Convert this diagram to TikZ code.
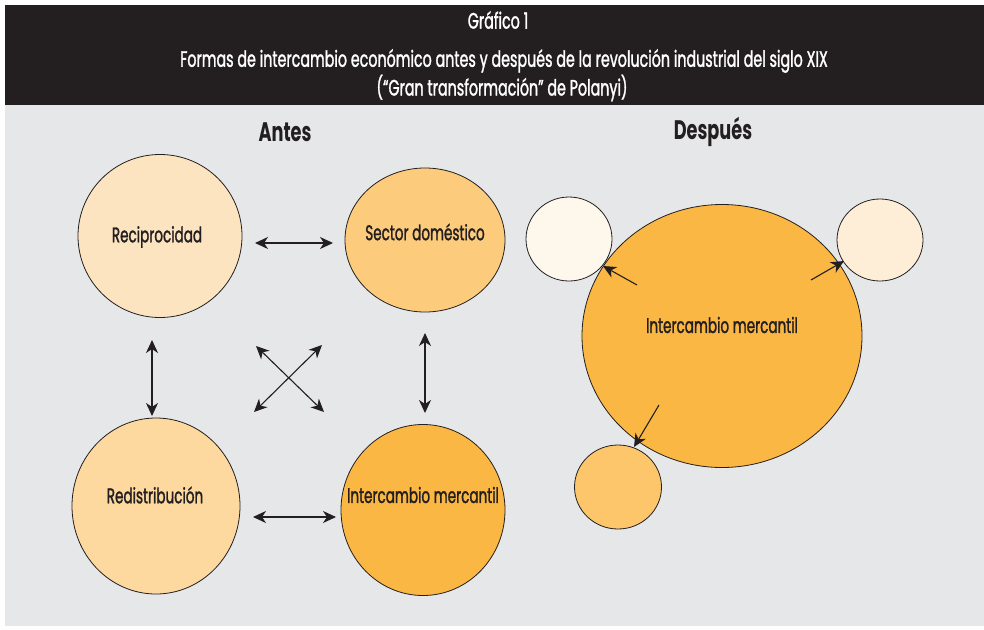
\documentclass[tikz,border=0pt]{standalone}
\usepackage{fontspec}
\setmainfont{Poppins}[FakeStretch=0.66]
\newfontfamily\medfont{Poppins}[FakeStretch=0.64, FakeBold=1.3]
\usetikzlibrary{shapes.geometric,arrows.meta}
\definecolor{hdr}{HTML}{231F20}
\definecolor{bodygrey}{HTML}{E6E7E8}
\definecolor{cRec}{HTML}{FDE4C0}
\definecolor{cSec}{HTML}{FDCB7C}
\definecolor{cRed}{HTML}{FDD89F}
\definecolor{cInt}{HTML}{FBB743}
\definecolor{cTL}{HTML}{FEF7EC}
\definecolor{cTR}{HTML}{FEEED8}
\definecolor{cBot}{HTML}{FDC66B}
\tikzset{
  blob/.style={ellipse, draw=hdr, line width=0.8pt, inner sep=0pt},
  lbl/.style={text=hdr, inner sep=0pt, font=\medfont\fontsize{21.2}{24}\selectfont},
  head/.style={text=hdr, inner sep=0pt, font=\fontsize{26.8}{30}\selectfont\bfseries},
  ttl/.style={text=white, inner sep=0pt, font=\medfont\fontsize{22.3}{25}\selectfont},
  tip/.style={Stealth[length=13pt,width=12pt,inset=4pt]},
  dbl/.style={draw=hdr, line width=1.1pt, {Stealth[length=13pt,width=12pt,inset=4pt]}-{Stealth[length=13pt,width=12pt,inset=4pt]}},
  sgl/.style={draw=hdr, line width=1.1pt, -{Stealth[length=13pt,width=12pt,inset=4pt]}}
}
\begin{document}
\begin{tikzpicture}[x=1pt,y=-1pt]
\useasboundingbox (0,0) rectangle (984,629);
\fill[white] (0,0) rectangle (984,629);
\fill[bodygrey] (5,105) rectangle (984,626);
\fill[hdr] (5,5) rectangle (984,105);
% title
\node[ttl] (t1) at (498,20) {Gráfico 1};
\node[ttl] (t2) at (504,61) {Formas de intercambio económico antes y después de la revolución industrial del siglo XIX};
\node[ttl] (t3) at (502,88) {(“Gran transformación” de Polanyi)};
% headings
\node[head] (antes) at (285,132) {Antes};
\node[head] (despues) at (713,132) {Después};
% left circles
\node[blob, fill=cRec, minimum width=164pt, minimum height=163pt] (rec) at (160,236) {};
\node[blob, fill=cSec, minimum width=160pt, minimum height=144pt] (sec) at (425,240) {};
\node[blob, fill=cRed, minimum width=168pt, minimum height=176pt] (red) at (156,506) {};
\node[blob, fill=cInt, minimum width=164pt, minimum height=171pt] (int) at (423,510) {};
\node[lbl] (recT) at (157,237) {Reciprocidad};
\node[lbl] (secT) at (425,232) {Sector doméstico};
\node[lbl] (redT) at (155,495) {Redistribución};
\node[lbl] (intT) at (423,495) {Intercambio mercantil};
% left arrows
\coordinate (h1a) at (255,243); \coordinate (h1b) at (333,243);
\coordinate (h2a) at (253,517); \coordinate (h2b) at (336,517);
\coordinate (v1a) at (152,340); \coordinate (v1b) at (152,416);
\coordinate (v2a) at (425,333); \coordinate (v2b) at (425,413);
\coordinate (x1a) at (256,346); \coordinate (x1b) at (324,412);
\coordinate (x2a) at (322,345); \coordinate (x2b) at (254,412);
\draw[dbl] (h1a) -- (h1b);
\draw[dbl] (h2a) -- (h2b);
\draw[dbl] (v1a) -- (v1b);
\draw[dbl] (v2a) -- (v2b);
\draw[dbl] (x1a) -- (x1b);
\draw[dbl] (x2a) -- (x2b);
% right side
\node[blob, fill=cInt, minimum width=280pt, minimum height=263pt] (big) at (722,336) {};
\node[blob, fill=cTL, minimum width=86pt, minimum height=84pt] (tl) at (569,239) {};
\node[blob, fill=cTR, minimum width=86pt, minimum height=82pt] (tr) at (880,240) {};
\node[blob, fill=cBot, minimum width=87pt, minimum height=84pt] (bot) at (618,487) {};
\node[lbl] (bigT) at (722,325) {Intercambio mercantil};
\coordinate (r1a) at (637,285); \coordinate (r1b) at (603,266);
\coordinate (r2a) at (811,280); \coordinate (r2b) at (844,261);
\coordinate (r3a) at (659,405); \coordinate (r3b) at (634,447);
\draw[sgl] (r1a) -- (r1b);
\draw[sgl] (r2a) -- (r2b);
\draw[sgl] (r3a) -- (r3b);
\end{tikzpicture}
\end{document}
